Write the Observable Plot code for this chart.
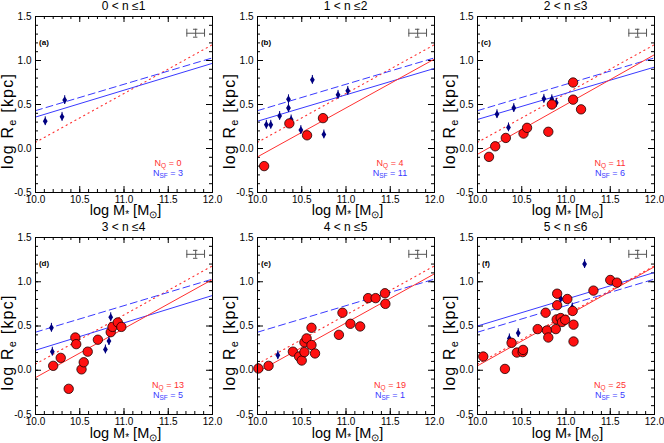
<!DOCTYPE html>
<html><head><meta charset="utf-8">
<script src="https://cdn.jsdelivr.net/npm/d3@7"></script>
<script src="https://cdn.jsdelivr.net/npm/@observablehq/plot@0.6"></script>
<style>
html,body{margin:0;padding:0;background:#fff;}
#wrap{position:relative;width:664px;height:443px;overflow:hidden;background:#fff;}
#wrap svg{position:absolute;overflow:visible;background:none;}
</style></head>
<body><div id="wrap"></div>
<script>
// ---- data ----
const titles = ["0 < n \u22641", "1 < n \u22642", "2 < n \u22643", "3 < n \u22644", "4 < n \u22645", "5 < n \u22646"];
const panelLabels = ["(a)", "(b)", "(c)", "(d)", "(e)", "(f)"];
const nQ = [0, 4, 11, 13, 19, 25];
const nSF = [3, 11, 6, 5, 1, 5];

// star-forming galaxies [log M*, log Re]
const sfA = [[10.11, 0.31], [10.30, 0.36], [10.33, 0.55]];
const sfB = [[10.10, 0.27], [10.15, 0.27], [10.25, 0.37], [10.35, 0.56], [10.35, 0.46], [10.38, 0.33],
             [10.49, 0.21], [10.62, 0.78], [10.75, 0.16], [10.91, 0.61], [11.02, 0.655]];
const sfC = [[10.22, 0.39], [10.41, 0.46], [10.35, 0.24], [10.75, 0.565], [10.84, 0.56], [10.89, 0.52]];
const sfD = [[10.18, 0.48], [10.19, 0.21], [10.79, 0.235], [10.83, 0.33], [10.85, 0.60]];
const sfE = [[10.23, 0.17]];
const sfF = [[10.36, 0.36], [10.46, 0.42], [10.94, 0.81], [11.07, 0.71], [11.21, 1.20]];

// quiescent galaxies [log M*, log Re]
const qA = [];
const qB = [[10.075, -0.20], [10.36, 0.285], [10.56, 0.15], [10.74, 0.345]];
const qC = [[10.13, -0.095], [10.20, 0.025], [10.32, 0.12], [10.52, 0.17], [10.56, 0.235], [10.80, 0.19],
            [10.84, 0.50], [11.08, 0.75], [11.08, 0.555], [11.17, 0.445]];
const qD = [[10.20, 0.05], [10.285, 0.14], [10.375, -0.21], [10.45, 0.37], [10.46, 0.295], [10.52, 0.01],
            [10.545, 0.09], [10.59, 0.21], [10.705, 0.345], [10.85, 0.43], [10.87, 0.49], [10.93, 0.54], [10.97, 0.49]];
const qE = [[10.01, 0.02], [10.125, 0.05], [10.40, 0.21], [10.47, 0.155], [10.50, 0.11], [10.53, 0.315],
            [10.53, 0.205], [10.555, 0.36], [10.61, 0.285], [10.61, 0.48], [10.65, 0.19], [10.92, 0.40],
            [10.96, 0.65], [11.05, 0.525], [11.16, 0.495], [11.25, 0.815], [11.335, 0.815], [11.44, 0.87], [11.445, 0.75]];
const qF = [[10.065, 0.155], [10.31, 0.015], [10.385, 0.31], [10.445, 0.20], [10.51, 0.205], [10.515, 0.23],
            [10.68, 0.465], [10.77, 0.65], [10.785, 0.45], [10.80, 0.37], [10.885, 0.465], [10.90, 0.865],
            [10.90, 0.735], [10.895, 0.575], [10.94, 0.59], [10.955, 0.545], [10.99, 0.57], [11.015, 0.805],
            [11.075, 0.67], [11.085, 0.515], [11.085, 0.325], [11.31, 0.90], [11.50, 1.02], [11.575, 0.99]];

const sfPanels = [sfA, sfB, sfC, sfD, sfE, sfF];
const qPanels = [qA, qB, qC, qD, qE, qF];

// fitted relations: log Re at log M* = 10 and 12
const fitMass = [10, 12];
const sfFitLo = [0.357, 0.31, 0.33, 0.226, null, 0.50];
const sfFitHi = [0.968, 0.91, 0.925, 0.845, null, 1.105];
const qFitLo = [null, -0.095, -0.066, -0.083, -0.02, 0.05];
const qFitHi = [null, 1.017, 1.066, 1.026, 1.09, 1.17];
// reference relations (same in all panels)
const refSF = [0.43, 1.03];
const refQ = [0.07, 1.18];

// typical error bar
const errMass = 11.81, errSize = 1.31, errDx = 0.10, errDy = 0.045, errCap = 0.025;
const sfErr = 0.05;

// axes
const xMajor = [10.0, 10.5, 11.0, 11.5, 12.0];
const yMajor = [-0.5, 0.0, 0.5, 1.0, 1.5];
const xMinor = d3.range(0, 21).map(i => 10 + i * 0.1);
const yMinor = d3.range(0, 21).map(i => -0.5 + i * 0.1);

// ---- drawing ----
const FONT = '"Liberation Sans", Arial, Helvetica, sans-serif';
const W = 221, H = 222, ML = 35, MR = 9, MT = 16;
const colLeft = [0, 222, 442], rowTop = [0, 221];
const BLUE = "#3a3aff", RED = "#ff3030", NAVY = "#000080";
const tallDiamond = {draw(ctx) { const w = 2.4, h = 3.9; ctx.moveTo(0, -h); ctx.lineTo(w, 0); ctx.lineTo(0, h); ctx.lineTo(-w, 0); ctx.closePath(); }};

const wrap = document.getElementById("wrap");

for (let i = 0; i < 6; i++) {
  const row = Math.floor(i / 3), col = i % 3;
  const MB = row === 0 ? 30 : 29;
  const fH = H - MT - MB, fW = W - ML - MR;
  const seg = (lo, hi) => [[fitMass[0], lo], [fitMass[1], hi]];
  const marks = [];
  // tick marks (inside, all four sides)
  marks.push(Plot.ruleX(xMinor, {x: d => d, insetTop: fH - 3, stroke: "black"}));
  marks.push(Plot.ruleX(xMinor, {x: d => d, insetBottom: fH - 3, stroke: "black"}));
  marks.push(Plot.ruleX(xMajor, {x: d => d, insetTop: fH - 6, stroke: "black"}));
  marks.push(Plot.ruleX(xMajor, {x: d => d, insetBottom: fH - 6, stroke: "black"}));
  marks.push(Plot.ruleY(yMinor, {y: d => d, insetRight: fW - 3, stroke: "black"}));
  marks.push(Plot.ruleY(yMinor, {y: d => d, insetLeft: fW - 3, stroke: "black"}));
  marks.push(Plot.ruleY(yMajor, {y: d => d, insetRight: fW - 6, stroke: "black"}));
  marks.push(Plot.ruleY(yMajor, {y: d => d, insetLeft: fW - 6, stroke: "black"}));
  marks.push(Plot.axisX(xMajor, {tickSize: 0, tickPadding: 3, tickFormat: d => d.toFixed(1), label: null, fontSize: 10}));
  marks.push(Plot.axisY(yMajor, {tickSize: 0, tickPadding: 4, tickFormat: d => d.toFixed(1), label: null, fontSize: 10}));
  // reference lines
  marks.push(Plot.line(seg(refQ[0], refQ[1]), {x: d => d[0], y: d => d[1], stroke: RED, strokeWidth: 1.1, strokeDasharray: "1.2,3.8", strokeLinecap: "round"}));
  marks.push(Plot.line(seg(refSF[0], refSF[1]), {x: d => d[0], y: d => d[1], stroke: BLUE, strokeWidth: 1, strokeDasharray: "7,4"}));
  // fits
  if (sfFitLo[i] != null) marks.push(Plot.line(seg(sfFitLo[i], sfFitHi[i]), {x: d => d[0], y: d => d[1], stroke: BLUE, strokeWidth: 1}));
  if (qFitLo[i] != null) marks.push(Plot.line(seg(qFitLo[i], qFitHi[i]), {x: d => d[0], y: d => d[1], stroke: RED, strokeWidth: 1}));
  // star-forming
  marks.push(Plot.ruleX(sfPanels[i], {x: d => d[0], y1: d => d[1] - sfErr, y2: d => d[1] + sfErr, stroke: NAVY, strokeWidth: 1}));
  marks.push(Plot.dot(sfPanels[i], {x: d => d[0], y: d => d[1], symbol: tallDiamond, fill: NAVY, stroke: "none"}));
  // quiescent
  marks.push(Plot.dot(qPanels[i], {x: d => d[0], y: d => d[1], r: 4.7, fill: "#ff1010", stroke: "#1a0000", strokeWidth: 0.8}));
  // typical error bar
  const EC = "#555";
  marks.push(Plot.ruleY([errSize], {y: d => d, x1: errMass - errDx, x2: errMass + errDx, stroke: EC}));
  marks.push(Plot.ruleX([errMass - errDx, errMass + errDx], {x: d => d, y1: errSize - errDy, y2: errSize + errDy, stroke: EC}));
  marks.push(Plot.ruleX([errMass], {x: d => d, y1: errSize - errDy, y2: errSize + errDy, stroke: EC}));
  marks.push(Plot.ruleY([errSize - errDy, errSize + errDy], {y: d => d, x1: errMass - errCap, x2: errMass + errCap, stroke: EC}));
  marks.push(Plot.frame({stroke: "black", strokeWidth: 1}));

  const svg = Plot.plot({
    width: W, height: H, marginLeft: ML, marginRight: MR, marginTop: MT, marginBottom: MB,
    x: {domain: [10, 12]}, y: {domain: [-0.5, 1.5]},
    style: {fontFamily: FONT, fontSize: "10px", background: "none", overflow: "visible", color: "black"},
    marks
  });
  svg.style.left = colLeft[col] + "px";
  svg.style.top = rowTop[row] + "px";
  const s = d3.select(svg);
  const cx = ML + fW / 2;
  // title
  s.append("text").attr("x", cx).attr("y", 10).attr("text-anchor", "middle")
    .attr("font-family", FONT).attr("font-size", 12).text(titles[i]);
  // panel label
  s.append("text").attr("x", ML + 9).attr("y", MT + 29).attr("font-family", FONT)
    .attr("font-size", 8).attr("font-weight", "bold").text(panelLabels[i]);
  // x label
  const xl = s.append("text").attr("x", cx + 2).attr("y", row === 0 ? 215.3 : 216.5).attr("text-anchor", "middle")
    .attr("font-family", FONT).attr("font-size", 14.5);
  xl.append("tspan").text("log M");
  xl.append("tspan").attr("font-size", 10).attr("dy", 3).text("*");
  xl.append("tspan").attr("dy", -3).text(" [M");
  xl.append("tspan").attr("font-size", 10).attr("dy", 3).text("\u2299");
  xl.append("tspan").attr("dy", -3).text("]");
  // y label
  const yl = s.append("text").attr("transform", `translate(13,${MT + fH / 2 + 17}) rotate(-90)`)
    .attr("text-anchor", "middle").attr("font-family", FONT).attr("font-size", 16).attr("letter-spacing", 1.2);
  yl.append("tspan").text("log R");
  yl.append("tspan").attr("font-size", 11).attr("dy", 3).text("e");
  yl.append("tspan").attr("dy", -3).text(" [kpc]");
  // counts
  const nx = ML + 133;
  const t1 = s.append("text").attr("x", nx).attr("y", MT + fH - 26).attr("font-family", FONT).attr("font-size", 9).attr("fill", RED);
  t1.append("tspan").text("N");
  t1.append("tspan").attr("font-size", 6.5).attr("dy", 2).text("Q");
  t1.append("tspan").attr("dy", -2).text(" = " + nQ[i]);
  const t2 = s.append("text").attr("x", nx).attr("y", MT + fH - 16).attr("font-family", FONT).attr("font-size", 9).attr("fill", BLUE);
  t2.append("tspan").text("N");
  t2.append("tspan").attr("font-size", 6.5).attr("dy", 2).text("SF");
  t2.append("tspan").attr("dy", -2).text(" = " + nSF[i]);
  wrap.appendChild(svg);
}
</script>
</body></html>
